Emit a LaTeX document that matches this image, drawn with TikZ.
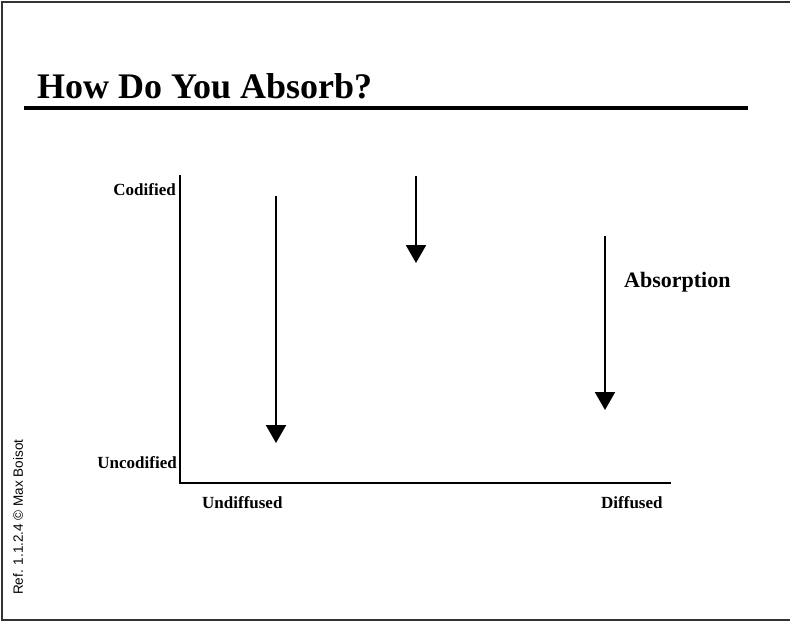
\documentclass[tikz,border=0pt]{standalone}
\usepackage{fontspec}
\setmainfont{Liberation Serif}
\newfontfamily\notefont{Liberation Sans}
\usetikzlibrary{arrows.meta}
\begin{document}
\begin{tikzpicture}[x=1pt,y=-1pt,
  axislabel/.style={font=\fontsize{17}{17}\selectfont\bfseries, inner sep=0pt},
  flow/.style={line width=2pt, -{Triangle[length=18pt,width=20pt]}},
  axis/.style={line width=2pt}]
  \useasboundingbox (0,0) rectangle (790,621);
  % page frame
  \draw[line width=2pt, black!80] (790,2) -- (2,2) -- (2,620) -- (790,620);
  % heading and rule
  \node[anchor=base west, inner sep=0pt, font=\fontsize{36}{36}\selectfont\bfseries] (title) at (37,98) {How Do You Absorb?};
  \draw[line width=4pt] (24,108) -- (748,108);
  % axes
  \coordinate (top) at (180,175);
  \coordinate (origin) at (180,483);
  \coordinate (right) at (671,483);
  \draw[axis] (top) -- (origin) -- (right);
  \node[axislabel, anchor=base east] (cod) at (176,195) {Codified};
  \node[axislabel, anchor=base east] (uncod) at (177,468) {Uncodified};
  \node[axislabel, anchor=base west] (undiff) at (202,508) {Undiffused};
  \node[axislabel, anchor=base west] (diff) at (601,508) {Diffused};
  % absorption arrows
  \coordinate (a1s) at (276,196); \coordinate (a1e) at (276,443);
  \coordinate (a2s) at (416,176); \coordinate (a2e) at (416,263);
  \coordinate (a3s) at (605,236); \coordinate (a3e) at (605,410);
  \draw[flow] (a1s) -- (a1e);
  \draw[flow] (a2s) -- (a2e);
  \draw[flow] (a3s) -- (a3e);
  \node[anchor=base west, inner sep=0pt, font=\fontsize{22}{22}\selectfont\bfseries] (absorb) at (624,287) {Absorption};
  % reference note
  \node[anchor=base west, inner sep=0pt, rotate=90, font=\notefont\fontsize{13.5}{13.5}\selectfont] (ref) at (23,595) {Ref. 1.1.2.4 © Max Boisot};
\end{tikzpicture}
\end{document}
